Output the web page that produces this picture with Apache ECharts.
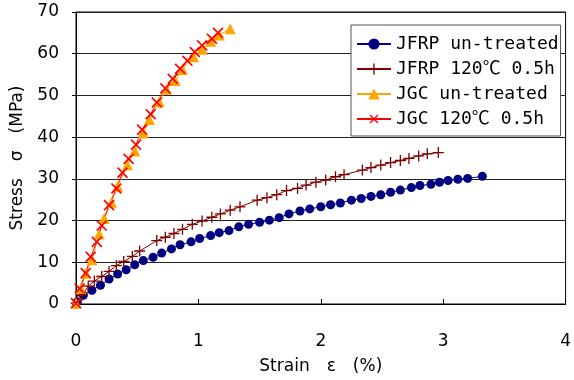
<!DOCTYPE html>
<html>
<head>
<meta charset="utf-8">
<script src="https://cdn.jsdelivr.net/npm/echarts@6/dist/echarts.min.js"></script>
<style>html,body{margin:0;padding:0;background:#fff;}#c{width:574px;height:380px;}</style>
</head>
<body>
<div id="c"></div>
<script>
// Series names
const seriesNames = ['JFRP un-treated', 'JFRP 120℃ 0.5h', 'JGC un-treated', 'JGC 120℃ 0.5h'];

// Axis ticks
const xTicks = [0, 1, 2, 3, 4];
const yTicks = [0, 10, 20, 30, 40, 50, 60, 70];

// JFRP un-treated: strain (%), stress (MPa)
const jfrpUnX = [0.01, 0.06, 0.13, 0.20, 0.27, 0.34, 0.41, 0.48, 0.55, 0.63, 0.70, 0.78, 0.85, 0.94, 1.01, 1.10, 1.17, 1.25, 1.33, 1.41, 1.50, 1.58, 1.66, 1.74, 1.83, 1.91, 2.00, 2.08, 2.16, 2.25, 2.33, 2.41, 2.49, 2.57, 2.65, 2.74, 2.81, 2.90, 2.97, 3.04, 3.12, 3.20, 3.32];
const jfrpUnY = [0.5, 2.1, 3.3, 4.5, 6.0, 7.2, 8.2, 9.4, 10.4, 11.2, 12.2, 13.2, 14.2, 14.9, 15.7, 16.4, 17.1, 17.6, 18.5, 19.1, 19.6, 20.1, 20.7, 21.6, 22.3, 22.8, 23.3, 23.8, 24.2, 24.9, 25.3, 25.8, 26.2, 26.8, 27.3, 27.9, 28.4, 28.7, 29.2, 29.6, 29.9, 30.1, 30.6];

// JFRP 120℃ 0.5h
const jfrp120X = [0.00, 0.05, 0.10, 0.15, 0.21, 0.27, 0.33, 0.39, 0.46, 0.52, 0.66, 0.73, 0.80, 0.87, 0.95, 1.03, 1.11, 1.18, 1.26, 1.34, 1.48, 1.56, 1.64, 1.72, 1.81, 1.88, 1.96, 2.04, 2.12, 2.19, 2.34, 2.41, 2.49, 2.57, 2.65, 2.72, 2.80, 2.87, 2.96];
const jfrp120Y = [0.2, 2.1, 4.3, 5.5, 6.6, 7.8, 9.2, 10.2, 11.4, 12.7, 15.2, 16.0, 16.9, 17.9, 19.1, 19.9, 20.8, 21.6, 22.5, 23.3, 24.9, 25.5, 26.2, 27.2, 27.7, 28.5, 29.2, 29.7, 30.5, 31.0, 32.1, 32.7, 33.3, 33.9, 34.4, 34.9, 35.5, 36.0, 36.3];

// JGC un-treated
const jgcUnX = [0.00, 0.04, 0.08, 0.13, 0.19, 0.23, 0.29, 0.34, 0.42, 0.48, 0.55, 0.60, 0.68, 0.74, 0.81, 0.87, 0.96, 1.03, 1.10, 1.17, 1.26];
const jgcUnY = [0.2, 3.7, 7.4, 10.6, 16.8, 20.5, 24.4, 28.2, 33.4, 36.7, 41.0, 44.2, 48.5, 51.5, 53.6, 56.2, 59.3, 61.1, 63.0, 64.5, 66.0];

// JGC 120℃ 0.5h
const jgc120X = [0.00, 0.03, 0.08, 0.12, 0.17, 0.21, 0.27, 0.33, 0.38, 0.43, 0.49, 0.54, 0.61, 0.66, 0.73, 0.79, 0.85, 0.91, 0.97, 1.03, 1.11, 1.16];
const jgc120Y = [0.2, 3.7, 7.4, 11.3, 14.9, 18.8, 23.7, 27.7, 31.5, 34.8, 38.2, 41.8, 45.5, 48.3, 51.7, 54.0, 56.4, 58.3, 60.4, 62.0, 63.6, 65.0];

const pair = (xs, ys) => xs.map((x, i) => [x, ys[i]]);

const FONT = '"DejaVu Sans", "Noto Sans CJK JP", sans-serif';
const MONO = '"DejaVu Sans Mono", "Noto Sans CJK JP", monospace';
const plusPath = 'path://M4.4,0 H5.6 V4.4 H10 V5.6 H5.6 V10 H4.4 V5.6 H0 V4.4 H4.4 Z';

const chart = echarts.init(document.getElementById('c'), null, {renderer: 'canvas'});
chart.setOption({
  animation: false,
  backgroundColor: '#fff',
  textStyle: {fontFamily: FONT, color: '#000'},
  grid: {left: 76, top: 12, right: 1, bottom: 72, show: true, borderColor: '#000', borderWidth: 1},
  legend: {
    left: 351, top: 25, orient: 'vertical',
    backgroundColor: '#fff', borderColor: '#555', borderWidth: 1,
    padding: [10, 2, 8, 5],
    itemWidth: 34, itemHeight: 14, itemGap: 7,
    textStyle: {fontFamily: MONO, fontSize: 18, color: '#000', lineHeight: 14},
    data: seriesNames
  },
  xAxis: {
    type: 'value', min: xTicks[0], max: xTicks[xTicks.length - 1], interval: 1,
    name: 'Strain　ε　(%)', nameLocation: 'middle', nameGap: 54,
    nameTextStyle: {fontFamily: FONT, fontSize: 17, color: '#000'},
    axisLine: {lineStyle: {color: '#000', width: 1}},
    axisTick: {inside: true, length: 5, lineStyle: {color: '#000'}},
    axisLabel: {margin: 29, fontSize: 17, color: '#000', fontFamily: FONT},
    splitLine: {show: false}
  },
  yAxis: {
    type: 'value', min: yTicks[0], max: yTicks[yTicks.length - 1], interval: 10,
    name: 'Stress　σ　(MPa)', nameLocation: 'middle', nameGap: 42, nameRotate: 90,
    nameTextStyle: {fontFamily: FONT, fontSize: 17, color: '#000'},
    axisLine: {lineStyle: {color: '#000', width: 1}},
    axisTick: {inside: false, length: 4, lineStyle: {color: '#000'}},
    axisLabel: {margin: 17, fontSize: 17, color: '#000', fontFamily: FONT},
    splitLine: {show: true, lineStyle: {color: '#222', width: 1}}
  },
  series: [
    {
      name: seriesNames[0], type: 'line', data: pair(jfrpUnX, jfrpUnY),
      symbol: 'circle', symbolSize: 9,
      lineStyle: {color: '#000080', width: 1}, itemStyle: {color: '#000080'}
    },
    {
      name: seriesNames[1], type: 'line', data: pair(jfrp120X, jfrp120Y),
      symbol: plusPath, symbolSize: 11,
      lineStyle: {color: '#800000', width: 1}, itemStyle: {color: '#800000'}
    },
    {
      name: seriesNames[2], type: 'line', data: pair(jgcUnX, jgcUnY),
      symbol: 'triangle', symbolSize: 11,
      lineStyle: {color: '#FFA500', width: 1}, itemStyle: {color: '#FFA500'}
    },
    {
      name: seriesNames[3], type: 'line', data: pair(jgc120X, jgc120Y),
      symbol: plusPath, symbolSize: 14, symbolRotate: 45,
      lineStyle: {color: '#FF0000', width: 1}, itemStyle: {color: '#FF0000'}
    }
  ]
});
</script>
</body>
</html>
